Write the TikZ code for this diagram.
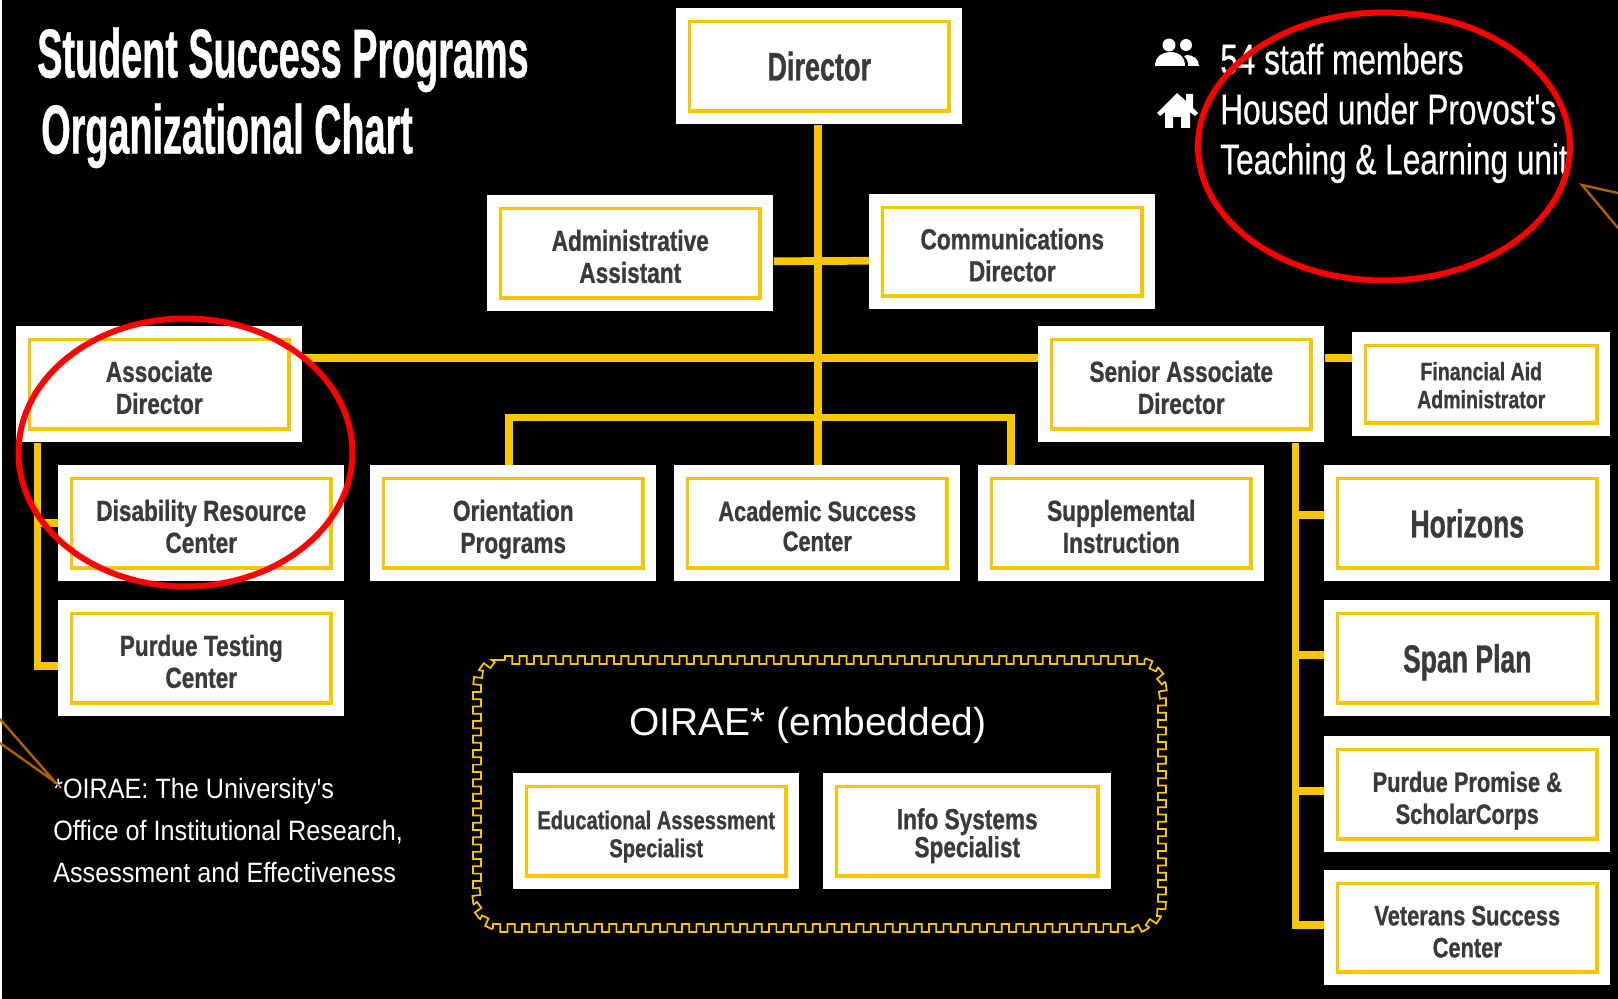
\documentclass[tikz,border=0pt]{standalone}
\usepackage{fontspec}
\setmainfont{Liberation Sans}
\newfontfamily\boxfont[FakeStretch=0.78,FakeBold=0.8]{Liberation Sans Bold}
\newfontfamily\bigboxfont[FakeStretch=0.68,FakeBold=0.8]{Liberation Sans Bold}
\newfontfamily\titlefont[FakeStretch=0.545,FakeBold=0.6]{Liberation Sans Bold}
\newfontfamily\infofont[FakeStretch=0.74,FakeBold=0.5]{Liberation Sans}
\newfontfamily\notefont[FakeStretch=0.90]{Liberation Sans}
\usetikzlibrary{calc,decorations}
\definecolor{gold}{HTML}{F9C500}
\definecolor{ink}{HTML}{3A3A3A}
\definecolor{wedge}{HTML}{B06000}
\pgfdeclaredecoration{sqwave}{a}{
  \state{a}[width=10.9pt]{
    \pgfpathlineto{\pgfqpoint{0pt}{3pt}}
    \pgfpathlineto{\pgfqpoint{5.45pt}{3pt}}
    \pgfpathlineto{\pgfqpoint{5.45pt}{-3pt}}
    \pgfpathlineto{\pgfqpoint{10.9pt}{-3pt}}
    \pgfpathlineto{\pgfqpoint{10.9pt}{0pt}}
  }
  \state{final}{\pgfpathlineto{\pgfpointdecoratedpathlast}}
}
\tikzset{
  outerbox/.style={fill=white,draw=none,inner sep=0pt,align=center,text=ink,anchor=north west},
  goldrect/.style={draw=gold,line width=2.4pt},
  conn/.style={draw=gold,line width=5.8pt,line join=miter},
  redring/.style={draw=red,line width=4.5pt},
  wedgeline/.style={draw=wedge,line width=1.8pt,line join=miter},
  freetext/.style={text=white,inner sep=0pt,anchor=north west,align=left},
}
% name, x0,y0,x1,y1, font size pt, baseline pt, text
\newcommand\bx[8]{%
  \node[outerbox,minimum width={(#4-#2)*0.75pt},minimum height={(#5-#3)*0.75pt},
        font=\boxfont\fontsize{#6}{#7}\selectfont] (#1) at (#2,#3) {\rule{0pt}{1.15\baselineskip}#8\strut};
  \draw[goldrect] ($(#1.north west)+(13.5,13.5)$) rectangle ($(#1.south east)+(-13.5,-13.5)$);
}
\begin{document}
\begin{tikzpicture}[x=0.75pt,y=-0.75pt]
\useasboundingbox (0,0) rectangle (1618,999);
\fill[white] (0,0) rectangle (1618,999);
\fill[black] (2,0) rectangle (1618,999);

\bx{dir}{676}{8}{962}{124}{29.8}{25}{\bigboxfont Director}
\bx{admin}{487}{195}{773}{311}{21.75}{24}{Administrative\\Assistant}
\bx{comm}{869}{194}{1155}{309}{21.75}{24}{Communications\\Director}
\bx{assoc}{16}{326}{302}{442}{21.75}{24}{Associate\\Director}
\bx{senior}{1038}{326}{1324}{442}{21.75}{24}{Senior Associate\\Director}
\bx{fin}{1352}{332}{1610}{436}{18.8}{21}{Financial Aid\\Administrator\rule[-9.3pt]{0pt}{0pt}}
\bx{dis}{58}{465}{344}{581}{21.75}{24}{Disability Resource\\Center}
\bx{ori}{370}{465}{656}{581}{21.75}{24}{Orientation\\Programs}
\bx{acad}{674}{465}{960}{581}{21}{22.5}{Academic Success\\Center}
\bx{sup}{978}{465}{1264}{581}{21.75}{24}{Supplemental\\Instruction}
\bx{hor}{1324}{465}{1610}{581}{29.3}{25}{\bigboxfont Horizons}
\bx{purdue}{58}{600}{344}{716}{21.75}{24}{Purdue Testing\\Center}
\bx{span}{1324}{600}{1610}{716}{29.3}{25}{\bigboxfont Span Plan}
\bx{prom}{1324}{736}{1610}{852}{21}{24}{Purdue Promise \&\\ScholarCorps}
\bx{vet}{1324}{870}{1610}{985}{21}{24}{Veterans Success\\Center}
\bx{edu}{513}{773}{799}{889}{19.3}{21}{Educational Assessment\\Specialist}
\bx{info}{823}{773}{1111}{889}{21.75}{21}{Info Systems\\Specialist}

% connectors
\coordinate (lt) at ($(assoc.south west)+(21.5,0)$);
\coordinate (rt) at ($(senior.south east)+(-29,0)$);
\draw[conn] ($(dir.south)+(-1.5,0)$) -- ($(dir.south |- acad.north)+(-1.5,0)$);
\draw[conn] ($(admin.east)+(0,8)$) -- ($(comm.west)+(0,9)$);
\draw[conn] ($(assoc.east)+(0,-26)$) -- ($(senior.west)+(0,-26)$);
\draw[conn] ($(senior.east)+(0,-26)$) -- ($(fin.west)+(0,-26)$);
\draw[conn] ($(ori.north)+(-4.5,0)$) |- ($(dir.south)+(0,293)$) -| ($(sup.north west)+(33,0)$);
\draw[conn] (lt) |- ($(purdue.west)+(0,8)$);
\draw[conn] (lt |- dis.west) -- (dis.west);
\draw[conn] (rt) |- ($(vet.west)+(0,-3)$);
\draw[conn] ($(rt |- hor.west)+(0,-8)$) -- ($(hor.west)+(0,-8)$);
\draw[conn] ($(rt |- span.west)+(0,-3)$) -- ($(span.west)+(0,-3)$);
\draw[conn] ($(rt |- prom.west)+(0,-3)$) -- ($(prom.west)+(0,-3)$);

% embedded group
\draw[draw=gold,line width=1.3pt,line join=miter,decorate,decoration={sqwave}]
  (505,660) -- (1134,660) .. controls (1149,660) and (1162,673) .. (1162,688)
  -- (1162,900) .. controls (1162,915) and (1149,928) .. (1134,928)
  -- (505,928) .. controls (490,928) and (477,915) .. (477,900)
  -- (477,688) .. controls (477,673) and (490,660) .. (505,660);
\node[text=white,font=\fontsize{29.2}{34}\selectfont,inner sep=0pt,anchor=base] (oirae) at (808,735) {OIRAE* (embedded)};

% title
\node[freetext,font=\titlefont\fontsize{52}{57}\selectfont] (title) at (37,27) {Student Success Programs\\[0pt]\hspace{3pt}Organizational Chart};

% info
\node[freetext,font=\infofont\fontsize{32}{37.5}\selectfont] (infotext) at (1220,43) {54 staff members\\Housed under Provost's\\Teaching \& Learning unit};
\fill[white] (1169,45) circle (6.5);
\fill[white] (1186,45) circle (6);
\fill[white] (1155,66) .. controls (1155,56) and (1163,52) .. (1170,52) .. controls (1178,52) and (1185,56) .. (1185,66) -- cycle;
\fill[white] (1187,55) .. controls (1193,55) and (1199,59) .. (1199,66) -- (1188,66) .. controls (1188,61) and (1187,58) .. (1184,56) -- cycle;
\fill[white] (1177,93) -- (1186,101) -- (1186,94) -- (1193,94) -- (1193,108) -- (1198,113) -- (1195,116) -- (1190,112) -- (1190,128) -- (1181,128) -- (1181,117) -- (1173,117) -- (1173,128) -- (1165,128) -- (1165,112) -- (1160,116) -- (1157,113) -- cycle;

% footnote
\node[freetext,font=\notefont\fontsize{21}{31.5}\selectfont] (note) at (53,778) {*OIRAE: The University's\\Office of Institutional Research,\\Assessment and Effectiveness};

% annotations
\draw[redring] (1384,146.5) ellipse (186 and 134);
\draw[redring] (185.5,452.5) ellipse (167 and 134);
\draw[wedgeline] (1618,193) -- (1582,185) -- (1618,228);
\draw[wedgeline] (0,719) -- (55,782) -- (0,743);
\end{tikzpicture}
\end{document}
